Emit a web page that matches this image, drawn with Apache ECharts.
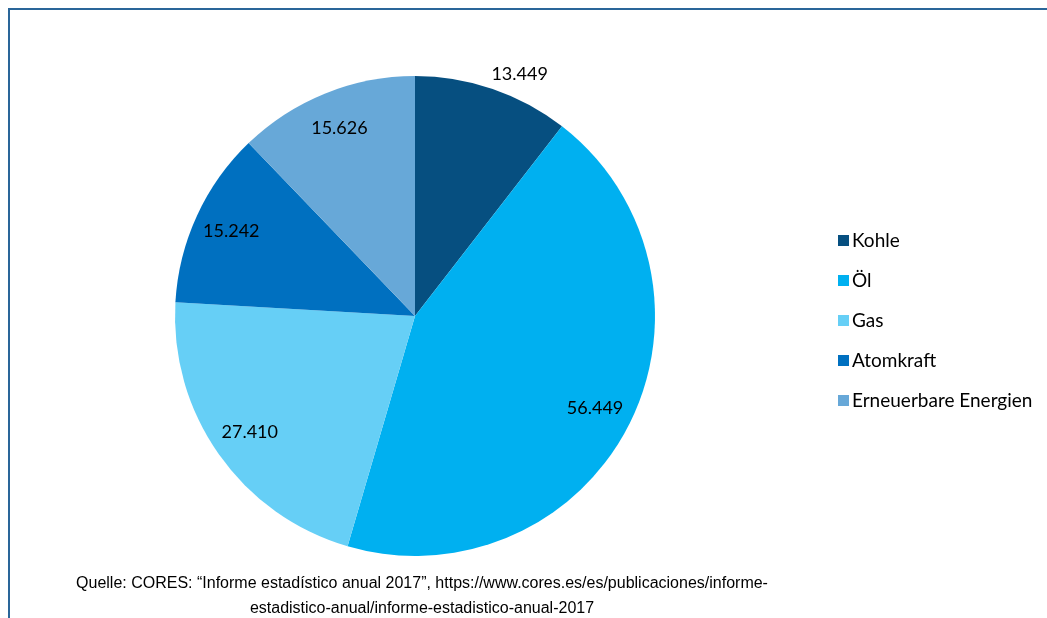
<!DOCTYPE html>
<html>
<head>
<meta charset="utf-8">
<script src="https://cdn.jsdelivr.net/npm/echarts@6/dist/echarts.min.js"></script>
<style>
  html, body { margin: 0; padding: 0; background: #fff; }
  #chart { width: 1047px; height: 618px; }
</style>
</head>
<body>
<div id="chart"></div>
<script>
// Primärenergieverbrauch Spanien 2017 nach Energieträger (ktoe)
const categories = ['Kohle', 'Öl', 'Gas', 'Atomkraft', 'Erneuerbare Energien'];
const values = [13449, 56449, 27410, 15242, 15626];
const colors = ['#064f80', '#00b0f0', '#66cff6', '#0070c0', '#67a8d8'];
const sourceLines = [
  'Quelle: CORES: “Informe estadístico anual 2017”, https://www.cores.es/es/publicaciones/informe-',
  'estadistico-anual/informe-estadistico-anual-2017'
];

const fmt = v => (v / 1000).toFixed(3);
const FONT = 'Lato, "Open Sans", sans-serif';

const data = categories.map((name, i) => ({
  name, value: values[i], itemStyle: { color: colors[i] }
}));

const center = [415, 316];
const R = 240;

// transparent rings that only carry the value labels
const labelRing = (inner, outer, showIdx, layout) => ({
  type: 'pie',
  silent: true,
  center,
  radius: [inner, outer],
  startAngle: 90,
  clockwise: true,
  animation: false,
  legendHoverLink: false,
  itemStyle: { color: 'rgba(0,0,0,0)' },
  labelLine: { show: false },
  labelLayout: Object.assign({ hideOverlap: false }, layout || {}),
  data: categories.map((name, i) => ({
    name, value: values[i],
    itemStyle: { color: 'rgba(0,0,0,0)' },
    label: {
      show: showIdx(i),
      position: 'inside',
      formatter: p => fmt(p.value),
      color: '#000',
      fontSize: 18,
      fontFamily: FONT
    }
  }))
});

const chart = echarts.init(document.getElementById('chart'));
chart.setOption({
  backgroundColor: '#fff',
  animation: false,
  legend: {
    orient: 'vertical',
    left: 833,
    top: 226,
    itemWidth: 11,
    itemHeight: 11,
    itemGap: 21,
    icon: 'rect',
    data: categories,
    textStyle: { fontSize: 19, fontFamily: FONT, color: '#000', padding: [0, 0, 0, -2] }
  },
  graphic: [
    {
      type: 'rect',
      shape: { x: 9, y: 9, width: 1200, height: 800 },
      style: { fill: 'none', stroke: '#2a6699', lineWidth: 2 },
      silent: true
    },
    {
      type: 'text',
      silent: true,
      style: {
        text: sourceLines.join('\n'),
        x: 422, y: 571,
        align: 'center',
        fontSize: 16,
        lineHeight: 25,
        fontFamily: '"Liberation Sans", Arial, sans-serif',
        fill: '#000'
      }
    }
  ],
  series: [
    {
      type: 'pie',
      center,
      radius: [0, R],
      startAngle: 90,
      clockwise: true,
      label: { show: false },
      labelLine: { show: false },
      emphasis: { disabled: true },
      data
    },
    labelRing(R * 0.66, R, i => i !== 0),
    // the narrow first slice carries its label just outside the rim
    labelRing(R, R * 1.18, i => i === 0, { dx: 19, dy: 9 })
  ]
});
</script>
</body>
</html>
